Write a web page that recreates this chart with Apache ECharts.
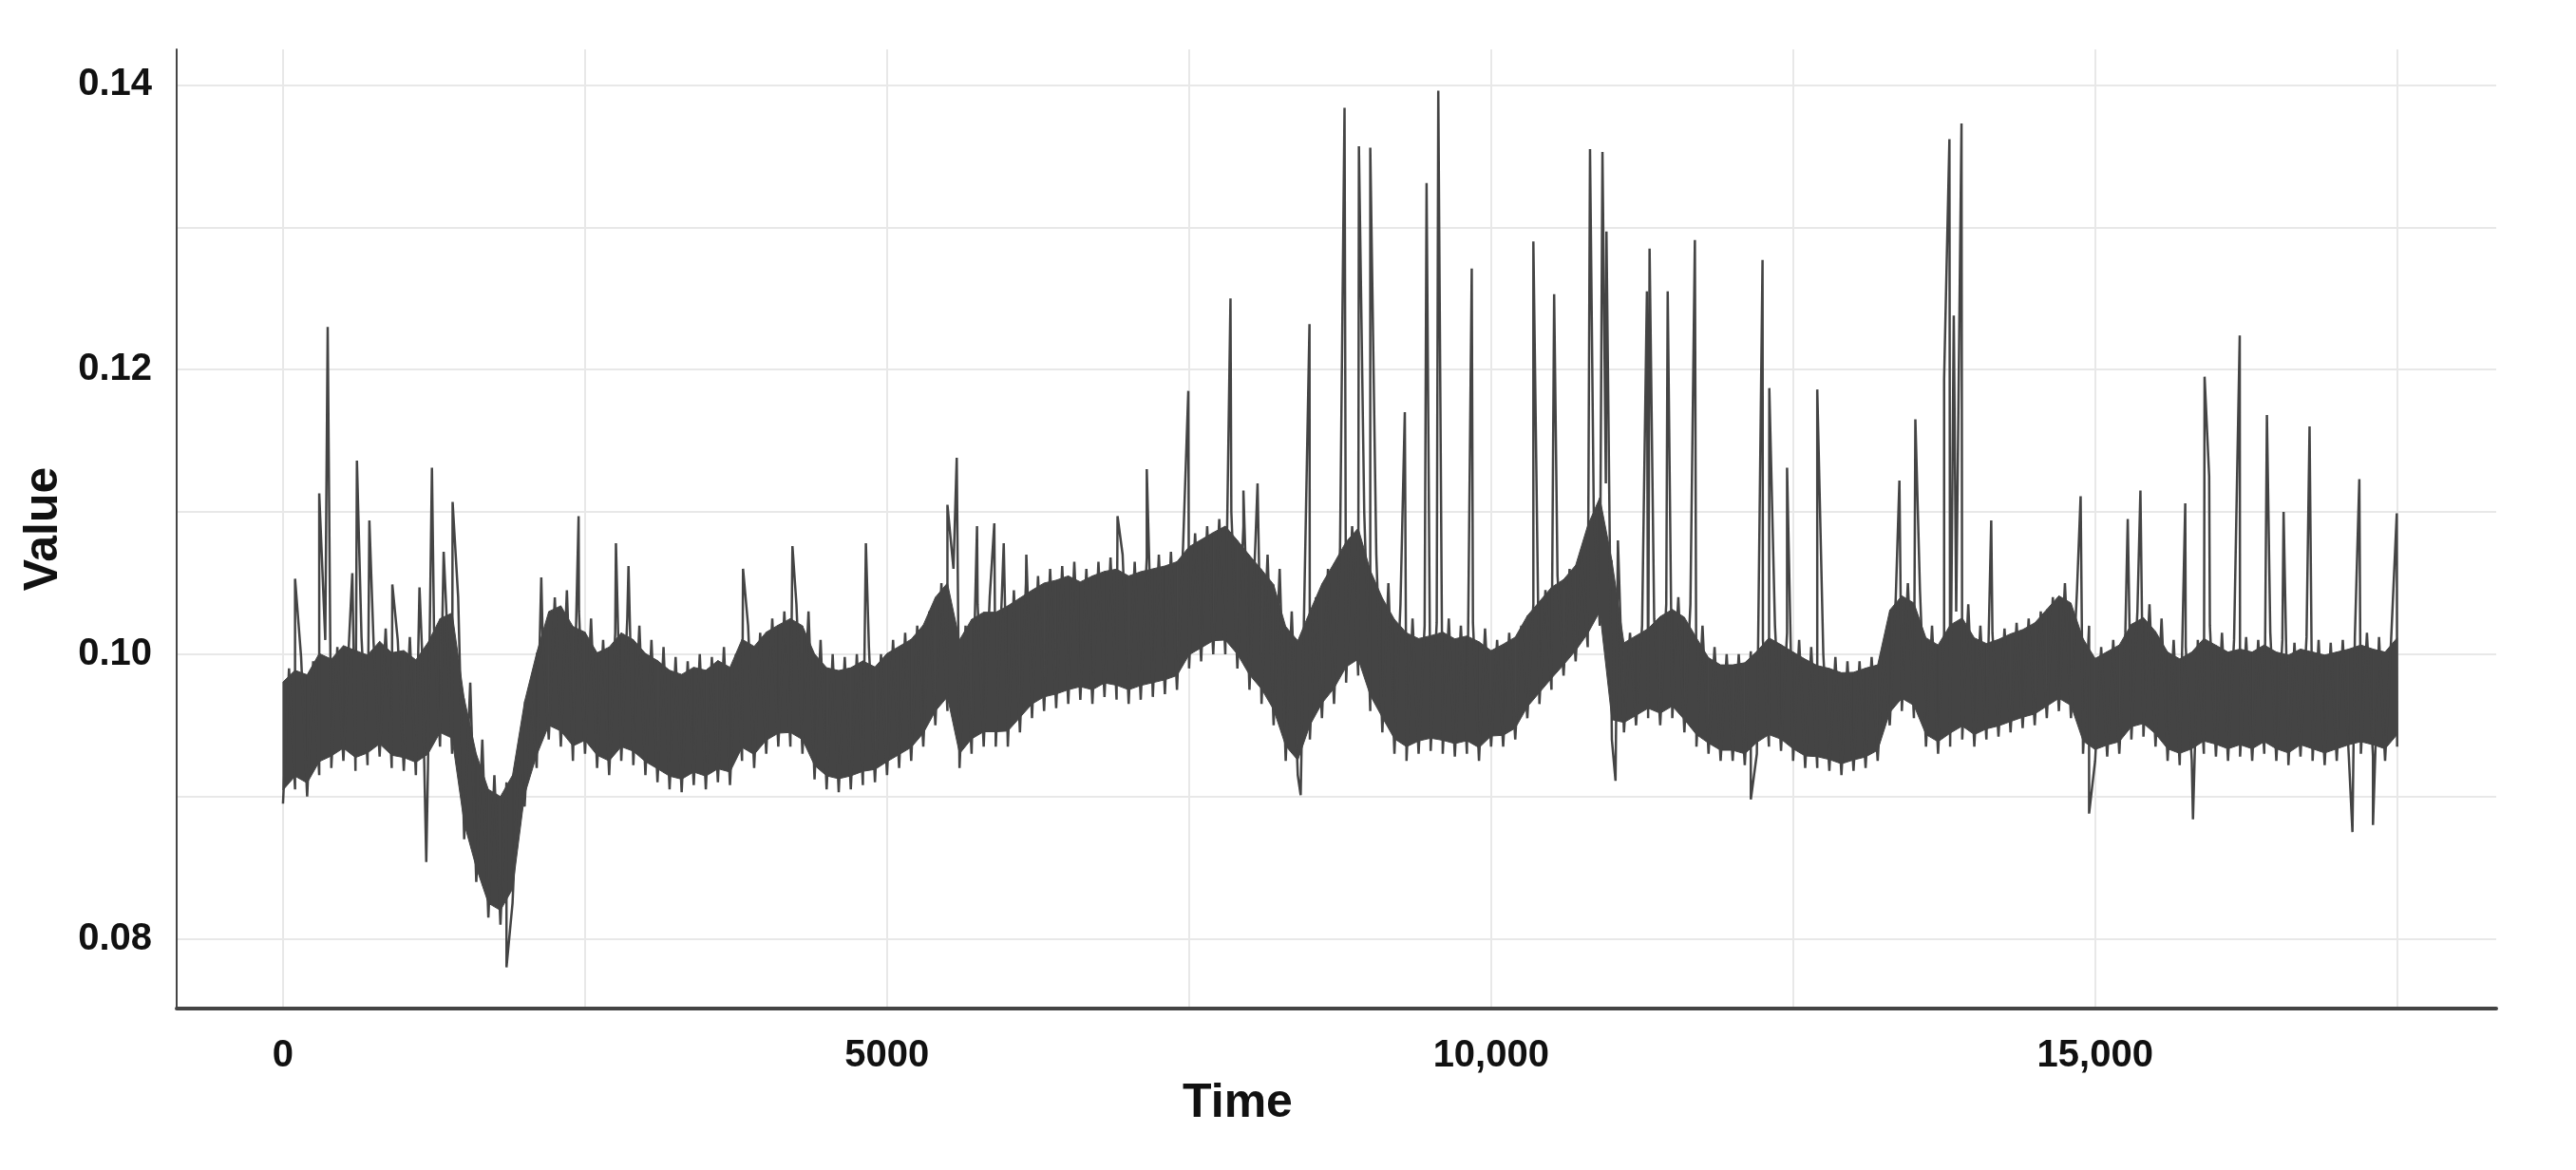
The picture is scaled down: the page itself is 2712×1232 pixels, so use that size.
<!DOCTYPE html>
<html>
<head>
<meta charset="utf-8">
<script src="https://cdn.jsdelivr.net/npm/echarts@6/dist/echarts.min.js"></script>
<style>
  html, body { margin: 0; padding: 0; background: #fff; }
  #chart { width: 2712px; height: 1232px; }
</style>
</head>
<body>
<div id="chart"></div>
<script>
// band envelope per 100 time units (t = 0, 100, ..., 17500)
const bandHi = [
  0.0990,0.0998,0.0995,0.1010,0.1005,0.1015,0.1012,0.1008,0.1018,0.1010,
  0.1012,0.1005,0.1018,0.1035,0.1040,0.0980,0.0940,0.0915,0.0910,0.0925,
  0.0975,0.1010,0.1040,0.1045,0.1030,0.1025,0.1010,0.1015,0.1025,0.1020,
  0.1010,0.1005,0.0998,0.0995,0.1000,0.0998,0.1005,0.1000,0.1020,0.1015,
  0.1025,0.1030,0.1035,0.1030,0.1010,0.1000,0.0998,0.1000,0.1005,0.1000,
  0.1010,0.1015,0.1020,0.1030,0.1050,0.1060,0.1020,0.1035,0.1040,0.1040,
  0.1045,0.1050,0.1055,0.1060,0.1062,0.1065,0.1060,0.1065,0.1068,0.1070,
  0.1065,0.1068,0.1070,0.1072,0.1075,0.1085,0.1090,0.1095,0.1100,0.1090,
  0.1080,0.1070,0.1060,0.1030,0.1020,0.1040,0.1060,0.1075,0.1090,0.1100,
  0.1070,0.1050,0.1035,0.1025,0.1020,0.1022,0.1025,0.1020,0.1022,0.1018,
  0.1010,0.1015,0.1020,0.1035,0.1045,0.1055,0.1060,0.1070,0.1100,0.1120,
  0.1080,0.1015,0.1020,0.1025,0.1035,0.1040,0.1035,0.1020,0.1005,0.1000,
  0.1000,0.1002,0.1010,0.1020,0.1015,0.1010,0.1005,0.1000,0.0998,0.0995,
  0.0995,0.0998,0.1000,0.1040,0.1050,0.1045,0.1020,0.1015,0.1030,0.1035,
  0.1020,0.1015,0.1018,0.1022,0.1025,0.1030,0.1040,0.1050,0.1045,0.1020,
  0.1005,0.1010,0.1015,0.1030,0.1035,0.1025,0.1010,0.1005,0.1010,0.1020,
  0.1015,0.1010,0.1012,0.1010,0.1015,0.1010,0.1008,0.1012,0.1010,0.1008,
  0.1010,0.1012,0.1015,0.1012,0.1010,0.1020
]
const bandLo = [
  0.0895,0.0905,0.0900,0.0915,0.0920,0.0925,0.0918,0.0922,0.0928,0.0920,
  0.0918,0.0915,0.0920,0.0935,0.0930,0.0870,0.0840,0.0815,0.0810,0.0825,
  0.0893,0.0920,0.0940,0.0935,0.0925,0.0930,0.0920,0.0915,0.0925,0.0922,
  0.0915,0.0910,0.0905,0.0903,0.0908,0.0905,0.0910,0.0908,0.0925,0.0920,
  0.0930,0.0935,0.0935,0.0930,0.0912,0.0905,0.0903,0.0905,0.0908,0.0910,
  0.0915,0.0920,0.0925,0.0935,0.0950,0.0960,0.0920,0.0930,0.0935,0.0935,
  0.0935,0.0945,0.0955,0.0960,0.0962,0.0965,0.0968,0.0965,0.0970,0.0968,
  0.0965,0.0968,0.0970,0.0972,0.0975,0.0990,0.0995,0.1000,0.1000,0.0990,
  0.0975,0.0965,0.0950,0.0925,0.0915,0.0940,0.0955,0.0965,0.0980,0.0985,
  0.0960,0.0945,0.0930,0.0925,0.0930,0.0932,0.0930,0.0928,0.0930,0.0925,
  0.0935,0.0935,0.0940,0.0955,0.0965,0.0975,0.0985,0.0995,0.1005,0.1020,
  0.0940,0.0945,0.0950,0.0955,0.0950,0.0955,0.0945,0.0935,0.0930,0.0925,
  0.0925,0.0922,0.0930,0.0935,0.0932,0.0925,0.0920,0.0920,0.0918,0.0915,
  0.0918,0.0920,0.0925,0.0950,0.0960,0.0955,0.0935,0.0930,0.0935,0.0940,
  0.0935,0.0940,0.0942,0.0945,0.0948,0.0950,0.0955,0.0960,0.0955,0.0930,
  0.0925,0.0928,0.0930,0.0940,0.0942,0.0935,0.0925,0.0922,0.0925,0.0930,
  0.0928,0.0925,0.0928,0.0925,0.0930,0.0925,0.0922,0.0928,0.0925,0.0922,
  0.0925,0.0928,0.0930,0.0928,0.0925,0.0935
]
// isolated spikes [time, value]
const spikes = [
  [100,0.1053],[300,0.1113],[370,0.1230],[574,0.1057],[612,0.1136],[715,0.1094],
  [905,0.1049],[1130,0.1047],[1186,0.0854],[1233,0.1131],[1330,0.1072],[1404,0.1107],
  [1850,0.0780],[2138,0.1054],[2447,0.1097],[2756,0.1078],[2860,0.1062],[3808,0.1060],
  [4217,0.1076],[4825,0.1078],[5500,0.1105],[5577,0.1138],[5745,0.1090],[5888,0.1092],
  [5966,0.1078],[6153,0.1070],[6908,0.1097],[7150,0.1130],[7494,0.1185],[7843,0.1250],
  [7950,0.1115],[8067,0.1120],[8424,0.0901],[8497,0.1232],[8787,0.1384],[8906,0.1357],
  [9000,0.1356],[9286,0.1170],[9466,0.1331],[9563,0.1396],[9840,0.1271],[10350,0.1290],
  [10522,0.1253],[10819,0.1355],[10922,0.1353],[10955,0.1297],[11030,0.0911],[11290,0.1255],
  [11312,0.1285],[11462,0.1255],[11687,0.1291],[12150,0.0898],[12247,0.1277],[12303,0.1187],
  [12450,0.1131],[12700,0.1186],[13380,0.1122],[13512,0.1165],[13750,0.1193],[13794,0.1362],
  [13830,0.1238],[13894,0.1373],[14140,0.1094],[14880,0.1111],[14950,0.0888],[15270,0.1095],
  [15375,0.1115],[15746,0.1106],[15810,0.0884],[15906,0.1195],[15944,0.1125],[16197,0.1224],
  [16422,0.1168],[16560,0.1100],[16775,0.1160],[17130,0.0875],[17187,0.1123],[17300,0.0880],
  [17497,0.1099]
]
const xTicks = [0, 2500, 5000, 7500, 10000, 12500, 15000, 17500]
const xLabels = [0, 5000, 10000, 15000]
const yTicks = [0.08, 0.09, 0.10, 0.11, 0.12, 0.13, 0.14]
const yLabels = [0.08, 0.10, 0.12, 0.14]

// zigzag line through the envelope, with spikes merged in
const points = []
bandHi.forEach((hi, i) => {
  points.push([i * 100, bandLo[i]])
  if (i < bandHi.length - 1) points.push([i * 100 + 50, hi])
})
spikes.forEach(s => points.push(s))
points.sort((a, b) => a[0] - b[0])

// solid core of the band: [t0, t1, lo0, hi0, lo1, hi1]
const bandSegs = []
for (let i = 0; i < bandHi.length - 1; i++) {
  bandSegs.push([i * 100, (i + 1) * 100, bandLo[i], bandHi[i], bandLo[i + 1], bandHi[i + 1]])
}
const inset = 0.1

const labelStyle = { fontFamily: 'Liberation Sans', fontWeight: 'bold', color: '#111', fontSize: 40 }
const chart = echarts.init(document.getElementById('chart'))
chart.setOption({
  animation: false,
  grid: { left: 186, right: 84, top: 52, bottom: 170 },
  xAxis: {
    type: 'value', min: -880, max: 18320,
    name: 'Time', nameLocation: 'middle', nameGap: 50,
    nameTextStyle: { ...labelStyle, fontSize: 50, padding: [0, 208, 0, 0] },
    axisLine: { onZero: false, lineStyle: { color: '#444', width: 4 } },
    axisTick: { show: false, customValues: xTicks },
    axisLabel: { ...labelStyle, margin: 30, customValues: xLabels,
      formatter: v => v >= 10000 ? v.toLocaleString('en-US') : String(v) },
    splitLine: { show: true, lineStyle: { color: '#e8e8e8', width: 2 } }
  },
  yAxis: {
    type: 'value', min: 0.0751, max: 0.1425,
    name: 'Value', nameLocation: 'middle', nameGap: 58,
    nameTextStyle: { ...labelStyle, fontSize: 50 },
    axisLine: { show: true, onZero: false, lineStyle: { color: '#444', width: 2 } },
    axisTick: { show: false, customValues: yTicks },
    axisLabel: { ...labelStyle, margin: 26, customValues: yLabels,
      formatter: v => v.toFixed(2) },
    splitLine: { show: true, lineStyle: { color: '#e8e8e8', width: 2 } }
  },
  series: [
    {
      type: 'custom', data: bandSegs, encode: { x: [0, 1], y: [2, 3, 4, 5] },
      renderItem: (params, api) => {
        const lo0 = api.value(2), hi0 = api.value(3), lo1 = api.value(4), hi1 = api.value(5)
        const w0 = (hi0 - lo0) * inset, w1 = (hi1 - lo1) * inset
        const a = api.coord([api.value(0), hi0 - w0])
        const b = api.coord([api.value(1), hi1 - w1])
        const c = api.coord([api.value(1), lo1 + w1])
        const d = api.coord([api.value(0), lo0 + w0])
        return { type: 'polygon', shape: { points: [a, b, c, d] },
          style: { fill: '#444', stroke: '#444', lineWidth: 1 } }
      }
    },
    { type: 'line', data: points, showSymbol: false,
      lineStyle: { color: '#444', width: 2.5 } }
  ]
})
</script>
</body>
</html>
